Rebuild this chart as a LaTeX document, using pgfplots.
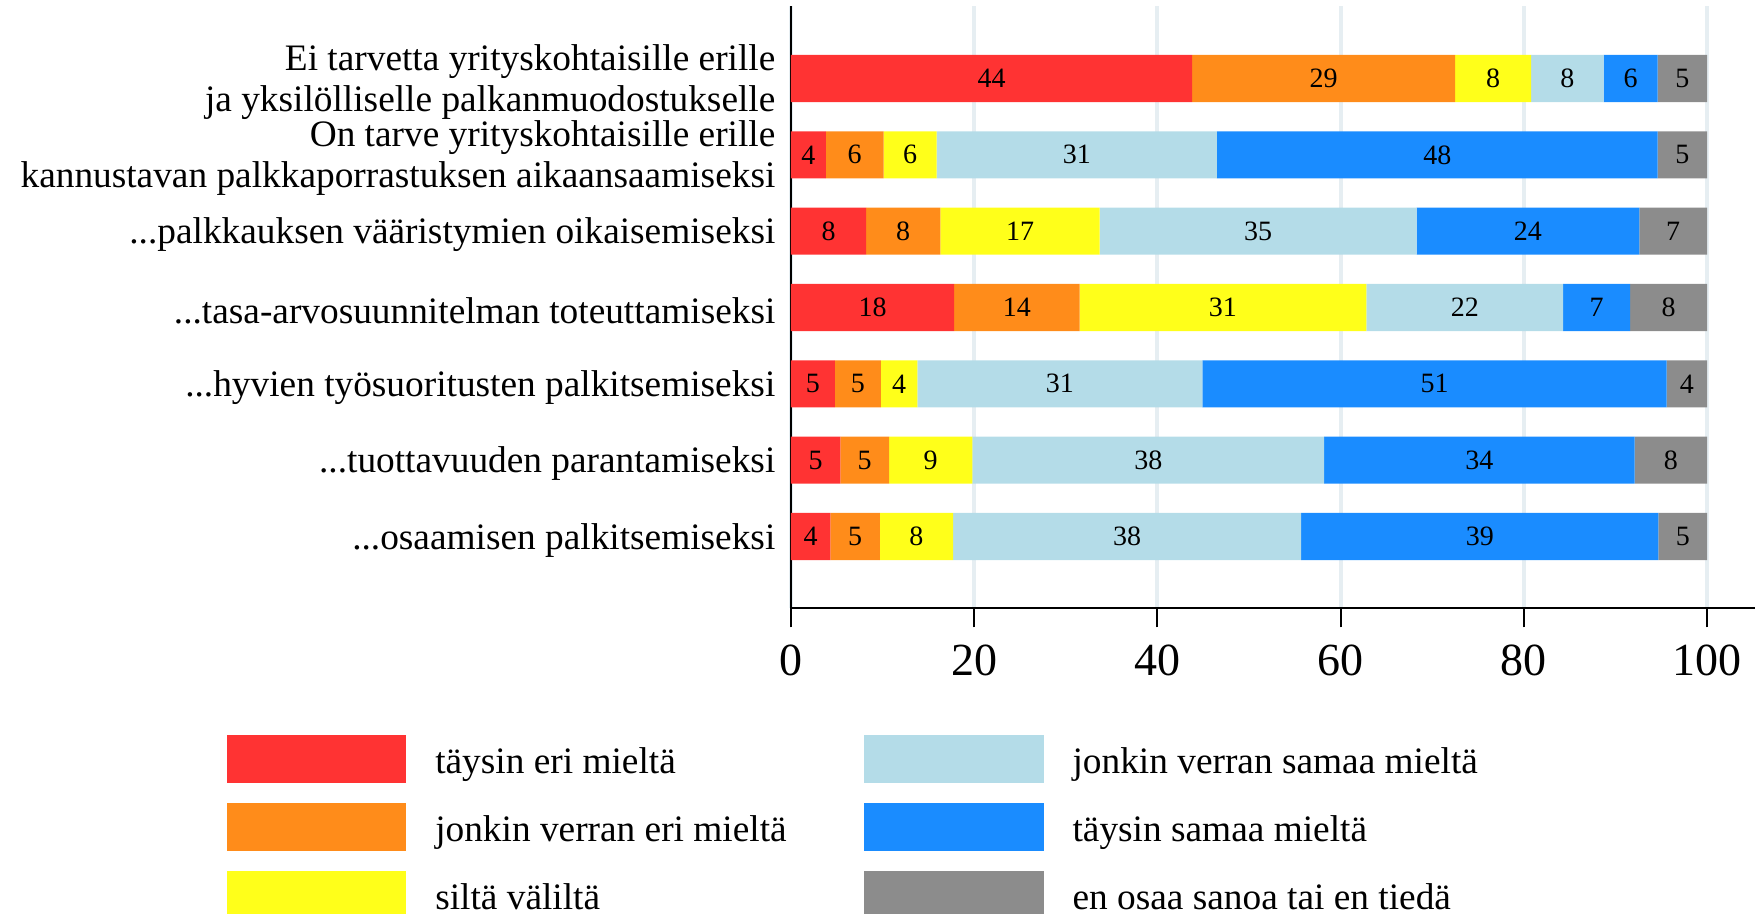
\documentclass[border=0pt]{standalone}
\usepackage{fontspec}
\setmainfont{Liberation Serif}
\usepackage{pgfplots}
\usepackage{pgfplotstable}
\pgfplotsset{compat=1.18}
\definecolor{cRed}{HTML}{FF3333}
\definecolor{cOrange}{HTML}{FF8C1A}
\definecolor{cYellow}{HTML}{FFFF1A}
\definecolor{cLBlue}{HTML}{B4DCE8}
\definecolor{cBlue}{HTML}{1A8CFF}
\definecolor{cGray}{HTML}{8C8C8C}
\definecolor{cGrid}{HTML}{E6EEF2}
\newcommand\dd{.\kern0pt.\kern0pt.}
\pgfplotstableread{
y a b c d e f la lb lc ld le lf
6 43.8 28.7 8.3 7.9 5.9 5.4 44 29 8 8 6 5
5 3.8 6.3 5.8 30.6 48.1 5.4 4 6 6 31 48 5
4 8.2 8.1 17.4 34.6 24.3 7.4 8 8 17 35 24 7
3 17.8 13.7 31.3 21.5 7.3 8.4 18 14 31 22 7 8
2 4.8 5.0 4.0 31.1 50.7 4.4 5 5 4 31 51 4
1 5.4 5.3 9.1 38.4 33.9 7.9 5 5 9 38 34 8
0 4.3 5.4 8.0 38.0 39.0 5.3 4 5 8 38 39 5
}\datatable
\pgfplotsset{
  sw/.style={legend image code/.code={\fill[#1] (0pt,-2.7pt) rectangle (53.4pt,11.4pt);}},
  seg/.style={fill=#1, draw=none, forget plot,
    nodes near coords, point meta=explicit symbolic},
}
\begin{document}
\begin{tikzpicture}
\begin{axis}[
  scale only axis, width=291.3pt, height=180.6pt,
  xmin=0, xmax=106, ymin=-0.937, ymax=6.95,
  xbar stacked, bar width=0.616,
  axis lines*=left,
  axis line style={line width=0.6pt, black},
  xtick={0,20,40,60,80,100},
  xmajorgrids, grid style={color=cGrid, line width=1.2pt},
  tick align=outside, major tick length=5.8pt,
  x tick style={line width=0.6pt, black},
  ytick={0,1,2,3,4,5,6}, y tick style={draw=none},
  yticklabels={{\dd osaamisen palkitsemiseksi},
    {\dd tuottavuuden parantamiseksi},
    {\dd hyvien työsuoritusten palkitsemiseksi},
    {\dd tasa-arvosuunnitelman toteuttamiseksi},
    {\dd palkkauksen vääristymien oikaisemiseksi},
    {On tarve yrityskohtaisille erille\\kannustavan palkkaporrastuksen aikaansaamiseksi},
    {Ei tarvetta yrityskohtaisille erille\\ja yksilölliselle palkanmuodostukselle}},
  yticklabel style={align=right, font=\fontsize{11.2}{12.3}\selectfont, inner xsep=0pt, xshift=1.3pt, yshift=-1.1pt},
  xticklabel style={font=\fontsize{13.8}{16}\selectfont, yshift=-1.7pt},
  /pgf/number format/assume math mode=true,
  every node near coord/.append style={anchor=center, inner sep=0pt,
    font=\fontsize{8.4}{10}\selectfont, text=black},
  legend style={at={(axis description cs:-0.5809,-0.21096)}, anchor=north west,
    draw=none, fill=none, inner sep=0pt, outer sep=0pt, row sep=5.85pt,
    font=\fontsize{11.2}{12}\selectfont,
    cells={anchor=base west},
    nodes={inner xsep=0pt, inner ysep=0pt},
    /tikz/every odd column/.append style={column sep=8.7pt},
    /tikz/every even column/.append style={column sep=8.7pt}},
  legend columns=2,
]
\addplot[seg=cRed] table[x=a, y=y, meta=la] {\datatable};
\addplot[seg=cOrange] table[x=b, y=y, meta=lb] {\datatable};
\addplot[seg=cYellow] table[x=c, y=y, meta=lc] {\datatable};
\addplot[seg=cLBlue] table[x=d, y=y, meta=ld] {\datatable};
\addplot[seg=cBlue] table[x=e, y=y, meta=le] {\datatable};
\addplot[seg=cGray] table[x=f, y=y, meta=lf] {\datatable};
\addlegendimage{sw=cRed}\addlegendentry{\makebox[120pt][l]{täysin eri mieltä}}
\addlegendimage{sw=cLBlue}\addlegendentry{jonkin verran samaa mieltä}
\addlegendimage{sw=cOrange}\addlegendentry{\makebox[120pt][l]{jonkin verran eri mieltä}}
\addlegendimage{sw=cBlue}\addlegendentry{täysin samaa mieltä}
\addlegendimage{sw=cYellow}\addlegendentry{\makebox[120pt][l]{siltä väliltä}}
\addlegendimage{sw=cGray}\addlegendentry{en osaa sanoa tai en tiedä}
\end{axis}
\pgfresetboundingbox
\path[use as bounding box] (-237.3pt,-91.5pt) rectangle (289.2pt,182.4pt);
\end{tikzpicture}
\end{document}
